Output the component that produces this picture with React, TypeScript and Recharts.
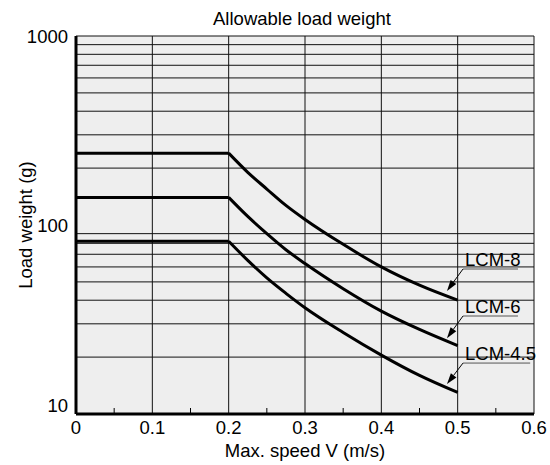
import {
  LineChart,
  Line,
  XAxis,
  YAxis,
  ReferenceLine,
  ReferenceArea,
  ReferenceDot,
} from 'recharts'

// curve points (speed m/s -> load g)
const speeds = [0.2, 0.225, 0.25, 0.275, 0.3, 0.35, 0.4, 0.45, 0.5]
const lcm8 = [240, 190, 155, 127, 107, 79, 60, 48, 40]
const lcm6 = [140, 111, 90, 74, 62.5, 46, 35, 28, 23]
const lcm45 = [82, 65, 52.5, 43.5, 36.5, 27, 20.5, 16, 13]

const seriesNames = ['LCM-8', 'LCM-6', 'LCM-4.5']
const seriesValues = [lcm8, lcm6, lcm45]

const xTicks = [0, 0.1, 0.2, 0.3, 0.4, 0.5, 0.6]
const xMinorTicks = [0.05, 0.15, 0.25, 0.35, 0.45, 0.55]
const yTicks = [10, 100, 1000]
const yGrid = [20, 30, 40, 50, 60, 70, 80, 90, 200, 300, 400, 500, 600, 700, 800, 900, 1000]
const xGrid = [0.1, 0.2, 0.3, 0.4, 0.5, 0.6]

// label callouts: underline (y, x start, x end) and arrow tip
const callouts = [
  { y: 58.5, x1: 0.507, x2: 0.579, tipX: 0.486, tipY: 44.8 },
  { y: 33, x1: 0.507, x2: 0.579, tipX: 0.486, tipY: 25.2 },
  { y: 18.6, x1: 0.507, x2: 0.595, tipX: 0.486, tipY: 14.4 },
]

const FONT = '"Liberation Sans", Arial, sans-serif'
const FS = 18.5

const flatData = (vals: number[]) => [
  { speed: 0, load: vals[0] },
  { speed: speeds[0], load: vals[0] },
]
const curveData = (vals: number[]) => speeds.map((s, i) => ({ speed: s, load: vals[i] }))

const Arrow = (p: any) => {
  const { x1, y1, x2, y2 } = p
  const dx = x2 - x1
  const dy = y2 - y1
  const len = Math.hypot(dx, dy)
  const ux = dx / len
  const uy = dy / len
  const hl = 11
  const hw = 3.5
  const bx = x2 - ux * hl
  const by = y2 - uy * hl
  return (
    <g>
      <line x1={x1} y1={y1} x2={bx} y2={by} stroke="#000" strokeWidth={1} />
      <polygon
        points={`${x2},${y2} ${bx - uy * hw},${by + ux * hw} ${bx + uy * hw},${by - ux * hw}`}
        fill="#000"
      />
    </g>
  )
}

const MinorTick = (p: any) => (
  <line x1={p.cx} x2={p.cx} y1={p.cy - 6} y2={p.cy} stroke="#000" strokeWidth={1} />
)

const YTick = (p: any) => {
  const { x, y, payload } = p
  return (
    <text
      x={x}
      y={y + (payload.value === 10 ? -9 : 0)}
      textAnchor="end"
      dominantBaseline="central"
      fontSize={FS}
      fontFamily={FONT}
      fill="#000"
    >
      {payload.value}
    </text>
  )
}

export default function App() {
  return (
    <div style={{ position: 'absolute', left: 0, top: 0, width: 550, height: 465, background: '#fff' }}>
      <div
        style={{
          position: 'absolute',
          left: 70,
          width: 464,
          top: 8,
          lineHeight: '22px',
          textAlign: 'center',
          fontFamily: FONT,
          fontSize: FS,
          color: '#000',
        }}
      >
        Allowable load weight
      </div>
      <LineChart width={550} height={465} margin={{ top: 36, right: 16, left: 0, bottom: 0 }}>
        <XAxis
          type="number"
          dataKey="speed"
          domain={[0, 0.6]}
          ticks={xTicks}
          height={51}
          tickLine={false}
          tickSize={0}
          tickMargin={7}
          axisLine={{ stroke: '#000', strokeWidth: 3 }}
          tick={{ fill: '#000', fontSize: FS, fontFamily: FONT }}
          label={{
            value: 'Max. speed V (m/s)',
            position: 'insideBottom',
            offset: 8,
            style: { fill: '#000', fontSize: FS, fontFamily: FONT },
          }}
        />
        <YAxis
          type="number"
          scale="log"
          domain={[10, 1000]}
          allowDataOverflow
          ticks={yTicks}
          width={76}
          tickLine={false}
          tickSize={0}
          tickMargin={8}
          axisLine={{ stroke: '#000', strokeWidth: 3 }}
          tick={<YTick />}
          label={{
            value: 'Load weight (g)',
            angle: -90,
            position: 'insideLeft',
            offset: 25,
            style: { fill: '#000', fontSize: FS, fontFamily: FONT, textAnchor: 'middle' },
          }}
        />
        <ReferenceArea x1={0} x2={0.6} y1={10} y2={1000} fill="#eeeeee" fillOpacity={1} stroke="none" />
        {yGrid.map((v) => (
          <ReferenceLine key={'h' + v} y={v} stroke="#111" strokeWidth={1} ifOverflow="visible" />
        ))}
        {xGrid.map((v) => (
          <ReferenceLine key={'v' + v} x={v} stroke="#111" strokeWidth={1} ifOverflow="visible" />
        ))}
        {xMinorTicks.map((v) => (
          <ReferenceDot key={'m' + v} x={v} y={10} r={0} ifOverflow="visible" shape={<MinorTick />} />
        ))}
        {seriesValues.map((vals, i) => (
          <Line
            key={'f' + i}
            data={flatData(vals)}
            dataKey="load"
            type="linear"
            stroke="#000"
            strokeWidth={3}
            dot={false}
            isAnimationActive={false}
          />
        ))}
        {seriesValues.map((vals, i) => (
          <Line
            key={'c' + i}
            data={curveData(vals)}
            dataKey="load"
            type="monotone"
            stroke="#000"
            strokeWidth={3}
            dot={false}
            isAnimationActive={false}
          />
        ))}
        {callouts.map((c, i) => (
          <ReferenceLine
            key={'u' + i}
            segment={[
              { x: c.x1, y: c.y },
              { x: c.x2, y: c.y },
            ]}
            stroke="#555"
            strokeWidth={1}
            ifOverflow="visible"
          />
        ))}
        {callouts.map((c, i) => (
          <ReferenceLine
            key={'a' + i}
            segment={[
              { x: c.x1, y: c.y },
              { x: c.tipX, y: c.tipY },
            ]}
            ifOverflow="visible"
            shape={<Arrow />}
          />
        ))}
        {callouts.map((c, i) => (
          <ReferenceDot
            key={'t' + i}
            x={c.x1}
            y={c.y}
            r={0}
            ifOverflow="visible"
            shape={(p: any) => (
              <text x={p.cx + 2} y={p.cy - 3} fontSize={FS} fontFamily={FONT} fill="#000">
                {seriesNames[i]}
              </text>
            )}
          />
        ))}
      </LineChart>
    </div>
  )
}
